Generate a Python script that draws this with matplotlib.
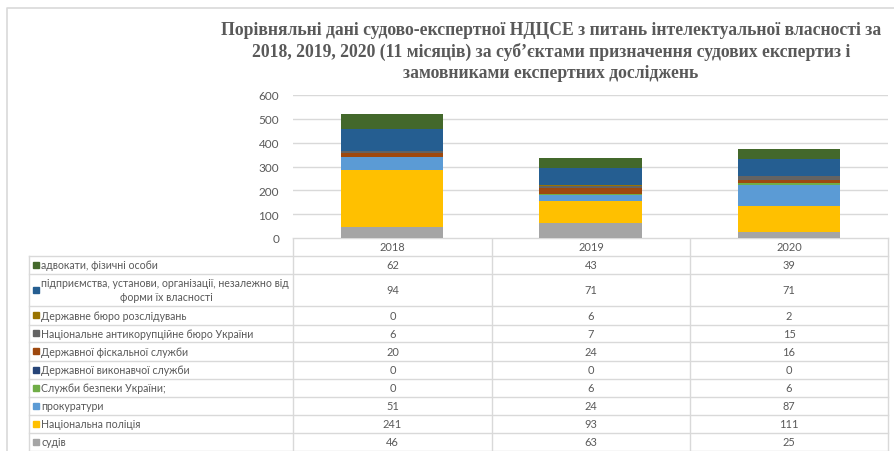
import matplotlib
matplotlib.use("Agg")
import matplotlib.pyplot as plt
import numpy as np

# ------------ Data ------------
years = ["2018", "2019", "2020"]

# bottom-up stacking order
series_names = [
    "судів",
    "Національна поліція",
    "прокуратури",
    "Служби безпеки України;",
    "Державної виконавчої служби",
    "Державної фіскальної служби",
    "Національне антикорупційне бюро України",
    "Державне бюро розслідувань",
    "підприємства, установи, організації, незалежно від\nформи їх власності",
    "адвокати, фізичні особи",
]
sudiv = [46, 63, 25]
politsiia = [241, 93, 111]
prokuratura = [51, 24, 87]
sbu = [0, 6, 6]
dvs = [0, 0, 0]
dfs = [20, 24, 16]
nabu = [6, 7, 15]
dbr = [0, 6, 2]
pidpryiemstva = [94, 71, 71]
advokaty = [62, 43, 39]
series_values = [sudiv, politsiia, prokuratura, sbu, dvs, dfs, nabu, dbr,
                 pidpryiemstva, advokaty]
colors = ["#A5A5A5", "#FFC000", "#5B9BD5", "#70AD47", "#264478",
          "#9E480E", "#636363", "#997300", "#255E91", "#43682B"]

yticks = [0, 100, 200, 300, 400, 500, 600]

title = ("Порівняльні дані судово-експертної НДЦСЕ з питань інтелектуальної власності за\n"
         "2018, 2019, 2020 (11 місяців) за суб’єктами призначення судових експертиз і\n"
         "замовниками експертних досліджень")

TXT = "#595959"
GRID = "#D9D9D9"
FONT = "Lato"
FS = 7.6

W, H = 894, 452
fig = plt.figure(figsize=(W / 100, H / 100), dpi=100)

# overlay in pixel coordinates (y down)
ov = fig.add_axes([0, 0, 1, 1])
ov.set_xlim(0, W)
ov.set_ylim(H, 0)
ov.axis("off")

# chart area border
ov.plot([7, 7, W + 5], [H + 5, 9, 9], color=GRID, lw=1.2)

ov.text(551, 52, title, ha="center", va="center", fontsize=12.7,
        fontweight="bold", family="Liberation Serif", color=TXT,
        linespacing=1.27)

# --------- Bars ----------
x0, x1, y_top, y0 = 293, 888, 96, 239
ax = fig.add_axes([x0 / W, (H - y0) / H, (x1 - x0) / W, (y0 - y_top) / H])
x = np.arange(len(years))
bottom = np.zeros(len(years))
for vals, c in zip(series_values, colors):
    ax.bar(x, vals, 0.515, bottom=bottom, color=c, edgecolor="none", zorder=3)
    bottom += np.array(vals)
ax.set_xlim(-0.5, len(years) - 0.5)
ax.set_ylim(0, 600)
ax.set_yticks(yticks)
ax.set_yticklabels([str(t) for t in yticks], family=FONT, fontsize=8.5, color=TXT)
ax.tick_params(axis="y", length=0, pad=10)
ax.set_xticks([])
ax.grid(axis="y", color=GRID, lw=1, zorder=0)
for s in ax.spines.values():
    s.set_visible(False)

# --------- Data table ----------
cols = [x0, 492, 690, x1]
left = 29
row_lines = [257, 275, 307, 326, 343, 362, 380, 398, 416, 434, 452]
# header
ov.plot([x0, x1], [y0, y0], color=GRID, lw=1)
for i, yr in enumerate(years):
    ov.text((cols[i] + cols[i + 1]) / 2, 248, yr, ha="center", va="center",
            family=FONT, fontsize=FS + 0.3, color=TXT)
for yy in row_lines:
    ov.plot([left, x1], [yy, yy], color=GRID, lw=1)
ov.plot([left, left], [row_lines[0], H], color=GRID, lw=1)
for cx in cols:
    ov.plot([cx, cx], [y0, H], color=GRID, lw=1)

# rows (top row = last series)
order = list(range(len(series_names)))[::-1]
for r, si in enumerate(order):
    ya, yb = row_lines[r], row_lines[r + 1]
    yc = (ya + yb) / 2
    ov.add_patch(plt.Rectangle((33, yc - 3.5), 6, 6, color=colors[si]))
    name = series_names[si]
    if "\n" in name:
        l1, l2 = name.split("\n")
        ov.text(41, yc - 7, l1, ha="left", va="center", family=FONT,
                fontsize=FS, color=TXT)
        ov.text(166, yc + 7, l2, ha="center", va="center", family=FONT,
                fontsize=FS, color=TXT)
    else:
        ov.text(41, yc, name, ha="left", va="center", family=FONT,
                fontsize=FS, color=TXT)
    for i in range(len(years)):
        ov.text((cols[i] + cols[i + 1]) / 2, yc, str(series_values[si][i]),
                ha="center", va="center", family=FONT, fontsize=FS + 0.3,
                color=TXT)

fig.savefig("out.png", dpi=100)
